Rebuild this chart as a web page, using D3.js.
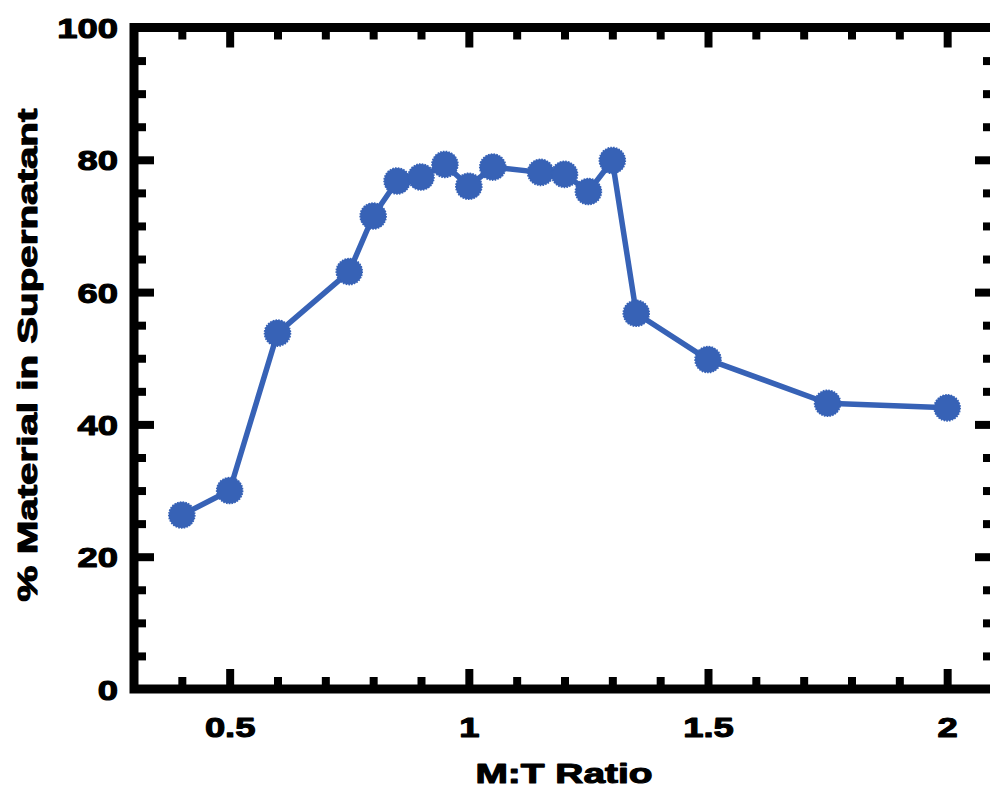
<!DOCTYPE html>
<html>
<head>
<meta charset="utf-8">
<script src="https://cdn.jsdelivr.net/npm/d3@7"></script>
<style>
  html, body { margin: 0; padding: 0; background: #ffffff; }
  svg { display: block; }
  text { font-family: "Liberation Sans", Arial, Helvetica, sans-serif; font-weight: bold; fill: #000; stroke: #000; stroke-width: 1.1px; stroke-linejoin: round; }
</style>
</head>
<body>
<svg id="chart" width="990" height="791"></svg>
<script>
// ---- data ----
const mtRatio = [0.4, 0.5, 0.6, 0.75, 0.8, 0.85, 0.9, 0.95, 1.0, 1.05, 1.15, 1.2, 1.25, 1.3, 1.35, 1.5, 1.75, 2.0];
const pctSupernatant = [26.3, 30.0, 53.8, 63.1, 71.5, 76.8, 77.4, 79.3, 76.0, 78.9, 78.1, 77.8, 75.2, 79.9, 56.8, 49.8, 43.2, 42.5];
const xMajorTicks = [0.5, 1, 1.5, 2];
const xTickLabels = ["0.5", "1", "1.5", "2"];
const xMinorTicks = [0.4, 0.6, 0.7, 0.8, 0.9, 1.1, 1.2, 1.3, 1.4, 1.6, 1.7, 1.8, 1.9];
const yMajorTicks = [0, 20, 40, 60, 80, 100];
const yTickLabels = ["0", "20", "40", "60", "80", "100"];
const yMinorTicks = [5, 10, 15, 25, 30, 35, 45, 50, 55, 65, 70, 75, 85, 90, 95];
const xTitle = "M:T Ratio";
const yTitle = "% Material in Supernatant";

(function () {
// ---- layout ----
const svg = d3.select("#chart");
const pLeft = 134, pRight = 995, pTop = 27.5, pBottom = 689;
const x = d3.scaleLinear().domain([0.3, 2.1]).range([pLeft, pRight]);
const y = d3.scaleLinear().domain([0, 100]).range([pBottom, pTop]);
const blue = "#3762b6";
const minorLen = 12, majorLen = 20, tickW = 8, frameW = 9;
const sx = 1.3;

function styleTicks(g) {
  g.select(".domain").remove();
  g.selectAll(".tick line").attr("stroke", "#000").attr("stroke-width", tickW);
  g.selectAll(".tick text").remove();
}

// inward ticks on all four sides
svg.append("g").attr("transform", `translate(0,${pBottom})`)
  .call(d3.axisBottom(x).tickValues(xMinorTicks).tickSize(-minorLen).tickSizeOuter(0)).call(styleTicks);
svg.append("g").attr("transform", `translate(0,${pBottom})`)
  .call(d3.axisBottom(x).tickValues(xMajorTicks).tickSize(-majorLen).tickSizeOuter(0)).call(styleTicks);
svg.append("g").attr("transform", `translate(0,${pTop})`)
  .call(d3.axisTop(x).tickValues(xMinorTicks).tickSize(-minorLen).tickSizeOuter(0)).call(styleTicks);
svg.append("g").attr("transform", `translate(0,${pTop})`)
  .call(d3.axisTop(x).tickValues(xMajorTicks).tickSize(-majorLen).tickSizeOuter(0)).call(styleTicks);
svg.append("g").attr("transform", `translate(${pLeft},0)`)
  .call(d3.axisLeft(y).tickValues(yMinorTicks).tickSize(-minorLen).tickSizeOuter(0)).call(styleTicks);
svg.append("g").attr("transform", `translate(${pLeft},0)`)
  .call(d3.axisLeft(y).tickValues(yMajorTicks.slice(1, -1)).tickSize(-majorLen).tickSizeOuter(0)).call(styleTicks);
svg.append("g").attr("transform", `translate(${pRight},0)`)
  .call(d3.axisRight(y).tickValues(yMinorTicks).tickSize(-minorLen).tickSizeOuter(0)).call(styleTicks);
svg.append("g").attr("transform", `translate(${pRight},0)`)
  .call(d3.axisRight(y).tickValues(yMajorTicks.slice(1, -1)).tickSize(-majorLen).tickSizeOuter(0)).call(styleTicks);

// frame
svg.append("rect")
  .attr("x", x.range()[0]).attr("y", y.range()[1])
  .attr("width", x.range()[1] - x.range()[0]).attr("height", y.range()[0] - y.range()[1])
  .attr("fill", "none").attr("stroke", "#000").attr("stroke-width", frameW);

// tick labels
const xLab = svg.append("g").attr("transform", `translate(0,737)`)
  .call(d3.axisBottom(x).tickValues(xMajorTicks).tickSize(0).tickPadding(0)
    .tickFormat((d, i) => xTickLabels[i]));
xLab.select(".domain").remove();
xLab.selectAll(".tick text").attr("dy", 0).attr("y", 0)
  .style("font-size", "28px").style("font-family", "'Liberation Sans', Arial, sans-serif")
  .style("font-weight", "bold").attr("fill", "#000")
  .attr("transform", `scale(${sx},1)`);

const yLab = svg.append("g").attr("transform", `translate(118,0)`)
  .call(d3.axisLeft(y).tickValues(yMajorTicks).tickSize(0).tickPadding(0)
    .tickFormat((d, i) => yTickLabels[i]));
yLab.select(".domain").remove();
yLab.selectAll(".tick text").attr("x", 0).attr("dy", "0.36em")
  .style("font-size", "28px").style("font-family", "'Liberation Sans', Arial, sans-serif")
  .style("font-weight", "bold").attr("fill", "#000")
  .attr("transform", `scale(${sx},1)`);

// axis titles
svg.append("text")
  .attr("transform", `translate(564,783) scale(1.39,1)`)
  .attr("text-anchor", "middle").style("font-size", "28px")
  .text(xTitle);
svg.append("text")
  .attr("transform", `translate(37,355) rotate(-90) scale(1.44,1)`)
  .attr("text-anchor", "middle").style("font-size", "28px")
  .text(yTitle);

// series
const pts = mtRatio.map((v, i) => [v, pctSupernatant[i]]);
svg.append("path")
  .datum(pts)
  .attr("fill", "none").attr("stroke", blue).attr("stroke-width", 5.5)
  .attr("stroke-linejoin", "round")
  .attr("d", d3.line().x(d => x(d[0])).y(d => y(d[1])));
svg.append("g").selectAll("circle").data(pts).join("circle")
  .attr("cx", d => x(d[0])).attr("cy", d => y(d[1]))
  .attr("r", 13)
  .attr("fill", blue)
  .attr("stroke", blue).attr("stroke-width", 1.6).attr("stroke-dasharray", "1.6 1.2");
})();
</script>
</body>
</html>
